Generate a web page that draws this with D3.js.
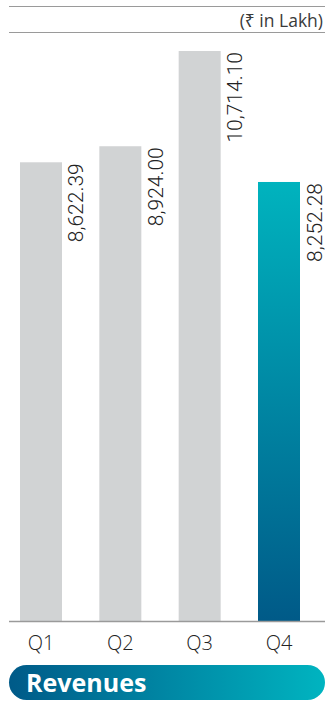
<!DOCTYPE html>
<html>
<head>
<meta charset="utf-8">
<script src="https://cdn.jsdelivr.net/npm/d3@7"></script>
<style>
  html, body { margin: 0; padding: 0; background: #fff; }
  svg { display: block; }
</style>
</head>
<body>
<svg id="chart" width="325" height="702"></svg>
<script>
// Quarterly revenue (₹ in Lakh)
const quarters = ["Q1", "Q2", "Q3", "Q4"];
const revenues = [8622.39, 8924.00, 10714.10, 8252.28];
const valueLabels = ["8,622.39", "8,924.00", "10,714.10", "8,252.28"];
const unitLabel = "(₹ in Lakh)";
const title = "Revenues";

const W = 325, H = 702;
const svg = d3.select("#chart");

const defs = svg.append("defs");
const barGrad = defs.append("linearGradient")
  .attr("id", "barGrad").attr("x1", 0).attr("y1", 0).attr("x2", 0).attr("y2", 1);
barGrad.append("stop").attr("offset", "0%").attr("stop-color", "#00b3be");
barGrad.append("stop").attr("offset", "100%").attr("stop-color", "#005a88");

const pillGrad = defs.append("linearGradient")
  .attr("id", "pillGrad").attr("x1", 0).attr("y1", 0).attr("x2", 1).attr("y2", 0);
pillGrad.append("stop").attr("offset", "0%").attr("stop-color", "#005a88");
pillGrad.append("stop").attr("offset", "100%").attr("stop-color", "#00b4c0");

const baseY = 621;
const x = d3.scaleBand().domain(quarters).range([20, 300]).paddingInner(0.4706).paddingOuter(0);
const y = d3.scaleLinear().domain([0, 11000]).range([baseY, 35.8]);

// header rules and unit note
svg.append("line").attr("x1", 9).attr("x2", W).attr("y1", 6.5).attr("y2", 6.5)
  .attr("stroke", "#9a9a9a").attr("stroke-width", 1.2);
svg.append("line").attr("x1", 9).attr("x2", W).attr("y1", 32.5).attr("y2", 32.5)
  .attr("stroke", "#9a9a9a").attr("stroke-width", 1.2);
svg.append("text").attr("x", 323).attr("y", 27).attr("text-anchor", "end")
  .attr("font-family", "'Open Sans', 'Noto Sans', sans-serif").attr("font-weight", 400)
  .attr("font-size", 17.5).attr("fill", "#3a3a3a").text(unitLabel);

// bars
svg.selectAll("rect.bar").data(quarters).join("rect")
  .attr("class", "bar")
  .attr("x", d => x(d))
  .attr("width", x.bandwidth())
  .attr("y", (d, i) => y(revenues[i]))
  .attr("height", (d, i) => baseY - y(revenues[i]))
  .attr("fill", (d, i) => i === quarters.length - 1 ? "url(#barGrad)" : "#d1d3d4");

// value labels, rotated, ending at bar top
svg.selectAll("text.val").data(quarters).join("text")
  .attr("class", "val")
  .attr("transform", (d, i) => `translate(${x(d) + x.bandwidth() + 21.5},${y(revenues[i]) + 1}) rotate(-90)`)
  .attr("text-anchor", "end")
  .attr("font-family", "Roboto, sans-serif").attr("font-weight", 300)
  .attr("font-size", 21).attr("fill", "#222")
  .text((d, i) => valueLabels[i]);

// baseline axis
const axis = svg.append("g").attr("transform", `translate(0,${baseY})`)
  .call(d3.axisBottom(x).tickSize(0).tickPadding(0));
axis.select(".domain").remove();
axis.append("line").attr("x1", 9).attr("x2", W).attr("y1", 0.5).attr("y2", 0.5)
  .attr("stroke", "#9a9a9a").attr("stroke-width", 1.3);
axis.selectAll(".tick text")
  .attr("dy", null).attr("y", 29)
  .attr("font-family", "'Open Sans', sans-serif").attr("font-weight", 300)
  .attr("font-size", 20).attr("fill", "#222");

// title pill
svg.append("rect").attr("x", 9).attr("y", 665).attr("width", W - 9).attr("height", 35)
  .attr("rx", 17.5).attr("fill", "url(#pillGrad)");
svg.append("text").attr("x", 26).attr("y", 692)
  .attr("font-family", "'Open Sans', sans-serif").attr("font-weight", 700)
  .attr("font-size", 25).attr("fill", "#fff").text(title);
</script>
</body>
</html>
